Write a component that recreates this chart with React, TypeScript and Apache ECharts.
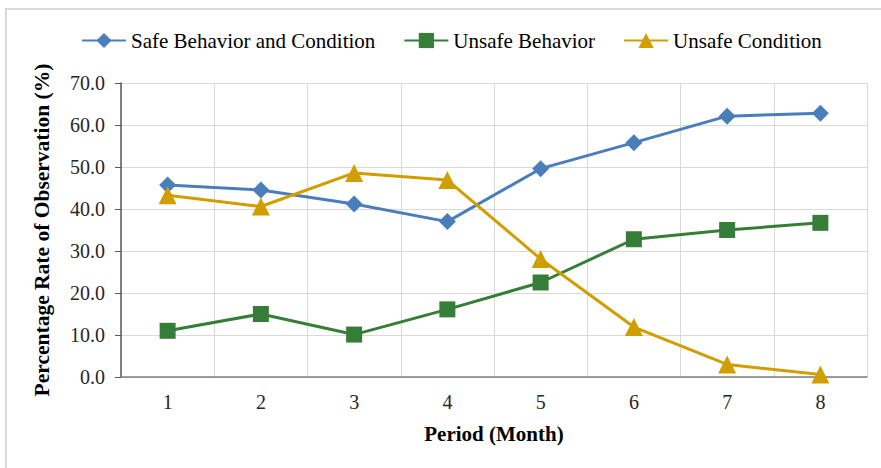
import React, { useEffect, useRef } from "react";
import * as echarts from "echarts";

const periods = ["1", "2", "3", "4", "5", "6", "7", "8"];
const safeBehaviorCondition = [45.7, 44.5, 41.2, 37.0, 49.6, 55.8, 62.1, 62.8];
const unsafeBehavior = [11.0, 15.0, 10.1, 16.1, 22.5, 32.8, 35.0, 36.7];
const unsafeCondition = [43.3, 40.6, 48.6, 46.9, 28.1, 11.9, 3.0, 0.6];

const FONT = "'Liberation Serif', 'Times New Roman', serif";

export default function App() {
  const ref = useRef<HTMLDivElement>(null);
  useEffect(() => {
    if (!ref.current) return;
    const chart = echarts.init(ref.current, null, { renderer: "svg" });
    chart.setOption({
      animation: false,
      backgroundColor: "#ffffff",
      textStyle: { fontFamily: FONT },
      graphic: [
        { type: "line", shape: { x1: 5, y1: 9, x2: 881, y2: 9 }, style: { stroke: "#d9d9d9", lineWidth: 2 } },
        { type: "line", shape: { x1: 6, y1: 9, x2: 6, y2: 468 }, style: { stroke: "#d9d9d9", lineWidth: 2 } },
      ],
      legend: {
        top: 25,
        left: 76,
        itemWidth: 44,
        itemHeight: 19,
        itemGap: 28,
        textStyle: { fontFamily: FONT, fontSize: 21, color: "#000" },
      },
      grid: { left: 121, right: 14, top: 83, bottom: 91, containLabel: false },
      xAxis: {
        type: "category",
        data: periods,
        name: "Period (Month)",
        nameLocation: "middle",
        nameGap: 46,
        nameTextStyle: { fontFamily: FONT, fontSize: 21, fontWeight: "bold", color: "#000" },
        axisLine: { lineStyle: { color: "#7f7f7f", width: 1.5 } },
        axisTick: { alignWithLabel: true, length: 6, lineStyle: { color: "#7f7f7f" } },
        axisLabel: { fontFamily: FONT, fontSize: 20, color: "#262626", margin: 15 },
        splitLine: { show: true, lineStyle: { color: "#d9d9d9", width: 1 } },
      },
      yAxis: {
        type: "value",
        min: 0,
        max: 70,
        interval: 10,
        name: "Percentage Rate of Observation (%)",
        nameLocation: "middle",
        nameGap: 68,
        nameTextStyle: { fontFamily: FONT, fontSize: 21.5, fontWeight: "bold", color: "#000" },
        axisLine: { show: true, lineStyle: { color: "#595959", width: 1.5 } },
        axisTick: { show: true, length: 6, lineStyle: { color: "#595959" } },
        axisLabel: {
          fontFamily: FONT,
          fontSize: 20,
          color: "#262626",
          margin: 16,
          formatter: (v: number) => v.toFixed(1),
        },
        splitLine: { show: true, lineStyle: { color: "#d9d9d9", width: 1 } },
      },
      series: [
        {
          name: "Safe Behavior and Condition",
          type: "line",
          data: safeBehaviorCondition,
          symbol: "diamond",
          symbolSize: 17,
          itemStyle: { color: "#4a7ebb" },
          lineStyle: { color: "#4a7ebb", width: 3 },
        },
        {
          name: "Unsafe Behavior",
          type: "line",
          data: unsafeBehavior,
          symbol: "rect",
          symbolSize: 16,
          itemStyle: { color: "#367e38" },
          lineStyle: { color: "#367e38", width: 3 },
        },
        {
          name: "Unsafe Condition",
          type: "line",
          data: unsafeCondition,
          symbol: "triangle",
          symbolSize: 18,
          itemStyle: { color: "#d19e00" },
          lineStyle: { color: "#d19e00", width: 3 },
        },
      ],
    });
    return () => chart.dispose();
  }, []);
  return (
    <div
      ref={ref}
      style={{ width: 881, height: 468, position: "absolute", left: 0, top: 0 }}
    />
  );
}
